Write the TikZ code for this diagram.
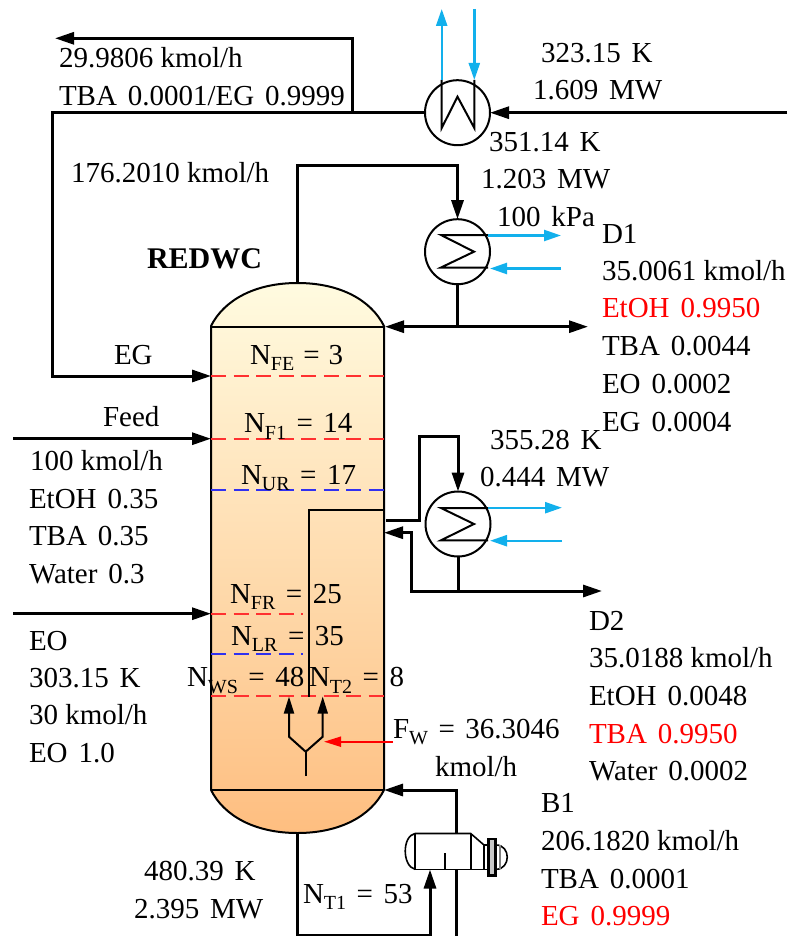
\documentclass[tikz,border=0pt]{standalone}
\usepackage{fontspec}
\setmainfont[WordSpace=1.5]{Liberation Serif}
\usetikzlibrary{arrows.meta}
\definecolor{capblue}{HTML}{12B0EC}
\definecolor{dashred}{HTML}{FF3030}
\definecolor{dashblue}{HTML}{3030F0}
\definecolor{coltop}{HTML}{FFFBE0}
\definecolor{colbot}{HTML}{FEBE80}
\newcommand{\sbs}[1]{\raisebox{-0.24em}{\fontsize{20}{20}\selectfont #1}}
\newcommand{\eqsp}[1][10.5pt]{\hspace{#1}=\hspace{#1}}
\newcommand{\nsp}{\hspace{7.25pt}}
\tikzset{
  x=1pt,y=-1pt,
  lbl/.style={inner sep=0pt,outer sep=0pt,anchor=base west,font=\fontsize{29}{35}\selectfont},
  redlbl/.style={lbl,text=red},
  pipe/.style={draw=black,line width=3pt,line join=miter},
  pipetip/.style={pipe,-{Triangle[length=19pt,width=12pt]}},
  wall/.style={draw=black,line width=2pt},
  thin wall/.style={draw=black,line width=1.6pt},
  coil/.style={draw=black,line width=2pt,line join=miter},
  cool/.style={draw=capblue,line width=2.4pt,-{Triangle[length=17pt,width=11pt]}},
  hx/.style={circle,draw=black,line width=2pt,minimum size=65pt,inner sep=0pt,outer sep=0pt},
  reddash/.style={draw=dashred,line width=2pt,dash pattern=on 15pt off 7.5pt},
  bluedash/.style={draw=dashblue,line width=2pt,dash pattern=on 15pt off 7.5pt},
}
\begin{document}
\begin{tikzpicture}
\useasboundingbox (0,0) rectangle (787,936);

% column
\shade[top color=coltop,bottom color=colbot]
  (211,326) .. controls (224,300) and (255,283) .. (297.5,283)
  .. controls (340,283) and (371,300) .. (384,326) -- (384,790)
  .. controls (371,816) and (340,833) .. (297.5,833)
  .. controls (255,833) and (224,816) .. (211,790) -- cycle;
\draw[wall]
  (211,326) .. controls (224,300) and (255,283) .. (297.5,283)
  .. controls (340,283) and (371,300) .. (384,326) -- (384,790)
  .. controls (371,816) and (340,833) .. (297.5,833)
  .. controls (255,833) and (224,816) .. (211,790) -- cycle;
\draw[wall] (211,326.5) -- (384,326.5);
\draw[wall] (211,790) -- (384,790);

% named points
\coordinate (coltopnoz) at (297,283);
\coordinate (colbotnoz) at (297,833);
\coordinate (egin) at (211,376);
\coordinate (feedin) at (211,438.7);
\coordinate (eoin) at (211,613.7);
\coordinate (feedsrc) at (13,438.7);
\coordinate (eosrc) at (13,613.7);
\coordinate (topret) at (385,326.7);
\coordinate (d1out) at (588,326.7);
\coordinate (sidedraw) at (386,520.7);
\coordinate (sideret) at (384,532.7);
\coordinate (d2out) at (602,591);
\coordinate (botret) at (384,790);
\coordinate (egsrc) at (787,112.7);
\coordinate (purge) at (55,38.3);

% stage lines
\draw[reddash] (211,376) -- (384,376);
\draw[reddash] (211,438.7) -- (384,438.7);
\draw[bluedash] (211,490) -- (384,490);
\draw[reddash] (211,613.7) -- (303,613.7);
\draw[bluedash] (211,654) -- (303,654);
\draw[reddash] (211,696) -- (384,696);

% dividing wall
\draw[wall] (384,510.3) -- (309,510.3) -- (309,697);

% water distributor
\coordinate (yfoot) at (305.7,776);
\coordinate (yfork) at (305.7,751.7);
\coordinate (wleft) at (289,696.5);
\coordinate (wright) at (322.7,696.5);
\coordinate (wsrc) at (393,741.7);
\coordinate (wdst) at (324,741.7);
\draw[wall] (yfoot) -- (yfork);
\draw[wall,-{Triangle[length=17pt,width=10pt]}] (yfork) -- (289,736.7) -- (wleft);
\draw[wall,-{Triangle[length=17pt,width=10pt]}] (yfork) -- (322.7,736.7) -- (wright);
\draw[draw=red,line width=2pt,-{Triangle[length=17pt,width=10pt]}] (wsrc) -- (wdst);

% exchangers
\node[hx] (hxtop) at (457.5,112.7) {};
\node[hx] (hxcond) at (457.5,251.7) {};
\node[hx] (hxside) at (458,524) {};

% top cooler
\draw[coil] (441.7,80) -- (441.7,128) -- (457.5,96.7) -- (474.3,128) -- (474.3,80);
\coordinate (ctup) at (441.7,80);
\coordinate (ctuptip) at (441.7,9);
\coordinate (ctdn) at (474.3,9);
\coordinate (ctdntip) at (474.3,80);
\draw[cool] (ctup) -- (ctuptip);
\draw[cool] (ctdn) -- (ctdntip);
\draw[pipetip] (egsrc) -- (hxtop.east);
\draw[pipetip] (hxtop.west) -- (52,112.7) |- (egin);
\draw[pipetip] (352,112.7) -- (352,38.3) -- (purge);

% condenser
\draw[coil] (488,235) -- (441,235) -- (474,251.7) -- (441,267.5) -- (488,267.5);
\coordinate (c1a) at (488,235.5);
\coordinate (c1b) at (561,235.5);
\coordinate (c1c) at (561,268.5);
\coordinate (c1d) at (490,268.5);
\draw[cool] (c1a) -- (c1b);
\draw[cool] (c1c) -- (c1d);
\draw[pipetip] (coltopnoz) -- (297,165.7) -| (hxcond.north);
\draw[pipe] (hxcond.south) -- (457.5,326.7);
\draw[pipetip] (457.5,326.7) -- (topret);
\draw[pipetip] (457.5,326.7) -- (d1out);

% side condenser
\draw[coil] (488,508) -- (441,508) -- (474,524) -- (441,540.3) -- (488,540.3);
\coordinate (c2a) at (488,507.7);
\coordinate (c2b) at (562,507.7);
\coordinate (c2c) at (562,540.7);
\coordinate (c2d) at (490,540.7);
\draw[cool] (c2a) -- (c2b);
\draw[cool] (c2c) -- (c2d);
\draw[pipetip] (sidedraw) -- (419,520.7) -- (419,436.7) -| (hxside.north);
\draw[pipe] (hxside.south) -- (458,591);
\draw[pipetip] (458,591) -- (411,591) -- (411,532.7) -- (sideret);
\draw[pipetip] (458,591) -- (d2out);

% feeds
\draw[pipetip] (feedsrc) -- (feedin);
\draw[pipetip] (eosrc) -- (eoin);

% reboiler
\draw[thin wall] (415,833.5) -- (470.7,833.5) -- (484,845) -- (487.5,845);
\draw[thin wall] (415,869.3) -- (487.5,869.3);
\draw[thin wall] (415,833.5) -- (415,869.3);
\draw[thin wall] (415,833.5) .. controls (402,836) and (402,866) .. (415,869.3);
\draw[thin wall] (470.7,833.5) -- (470.7,869.3);
\draw[thin wall] (484,845) -- (484,869.3);
\draw[thin wall] (445,869.3) -- (445,853);
\draw[black,line width=2.8pt,fill=gray!45] (488.5,839) rectangle (495.5,875.5);
\draw[thin wall] (496,845) .. controls (511,845) and (511,869.3) .. (496,869.3);
\draw[draw=gray,line width=1.2pt] (500,845) -- (500,869.3);
\coordinate (rebtop) at (456,833.5);
\coordinate (rebin) at (430,869.5);
\coordinate (rebout) at (456,869.3);
\coordinate (rebdown) at (456,936);
\draw[pipetip] (rebtop) -- (456,790) -- (botret);
\draw[pipe] (rebout) -- (rebdown);
\draw[pipetip] (colbotnoz) -- (297,935) -- (430,935) -- (rebin);

% texts
\node[lbl] (t1) at (59,68) {29.9806\nsp kmol/h};
\node[lbl] (t2) at (59,106) {TBA 0.0001/EG 0.9999};
\node[lbl] (t3) at (71,182.7) {176.2010\nsp kmol/h};
\node[lbl,font=\fontsize{30}{35}\selectfont\bfseries] (t4) at (147,268) {REDWC};
\node[lbl] (t5) at (541,62.5) {323.15 K};
\node[lbl] (t6) at (533,99.5) {1.609 MW};
\node[lbl] (t7) at (489,151.7) {351.14 K};
\node[lbl] (t8) at (481,189) {1.203 MW};
\node[lbl] (t9) at (497,226) {100 kPa};
\node[lbl] (t10) at (602,243) {D1};
\node[lbl] (t11) at (602,280) {35.0061\nsp kmol/h};
\node[redlbl] (t12) at (602,317) {EtOH 0.9950};
\node[lbl] (t13) at (602,355) {TBA 0.0044};
\node[lbl] (t14) at (602,393) {EO 0.0002};
\node[lbl] (t15) at (602,431) {EG 0.0004};
\node[lbl] (t16) at (114,364) {EG};
\node[lbl] (t17) at (103,426) {Feed};
\node[lbl] (t18) at (30,470) {100\nsp kmol/h};
\node[lbl] (t19) at (29,508) {EtOH 0.35};
\node[lbl] (t20) at (29,545) {TBA 0.35};
\node[lbl] (t21) at (29,583) {Water 0.3};
\node[lbl] (t22) at (29,650) {EO};
\node[lbl] (t23) at (29,687) {303.15 K};
\node[lbl] (t24) at (29,724) {30\nsp kmol/h};
\node[lbl] (t25) at (29,762) {EO 1.0};
\node[lbl] (t26) at (250,364) {N\sbs{FE}\eqsp[9pt]3};
\node[lbl] (t27) at (244,432.7) {N\sbs{F1}\eqsp 14};
\node[lbl] (t28) at (241,484) {N\sbs{UR}\eqsp 17};
\node[lbl] (t29) at (230,603) {N\sbs{FR}\eqsp 25};
\node[lbl] (t30) at (231,645) {N\sbs{LR}\eqsp 35};
\node[lbl] (t31) at (187,686.7) {N\sbs{WS}\eqsp 48};
\node[lbl] (t32) at (309,686.7) {N\sbs{T2}\eqsp 8};
\node[lbl] (t33) at (393,738) {F\sbs{W}\eqsp 36.3046};
\node[lbl] (t34) at (435,776) {kmol/h};
\node[lbl] (t35) at (490,449) {355.28 K};
\node[lbl] (t36) at (480,486) {0.444 MW};
\node[lbl] (t37) at (589,630) {D2};
\node[lbl] (t38) at (589,667) {35.0188\nsp kmol/h};
\node[lbl] (t39) at (589,705) {EtOH 0.0048};
\node[redlbl] (t40) at (589,743) {TBA 0.9950};
\node[lbl] (t41) at (589,780) {Water 0.0002};
\node[lbl] (t42) at (541,812) {B1};
\node[lbl] (t43) at (541,850) {206.1820\nsp kmol/h};
\node[lbl] (t44) at (541,888) {TBA 0.0001};
\node[redlbl] (t45) at (541,925) {EG 0.9999};
\node[lbl] (t46) at (144,880) {480.39 K};
\node[lbl] (t47) at (134,918) {2.395 MW};
\node[lbl] (t48) at (303,903) {N\sbs{T1}\eqsp 53};
\end{tikzpicture}
\end{document}
